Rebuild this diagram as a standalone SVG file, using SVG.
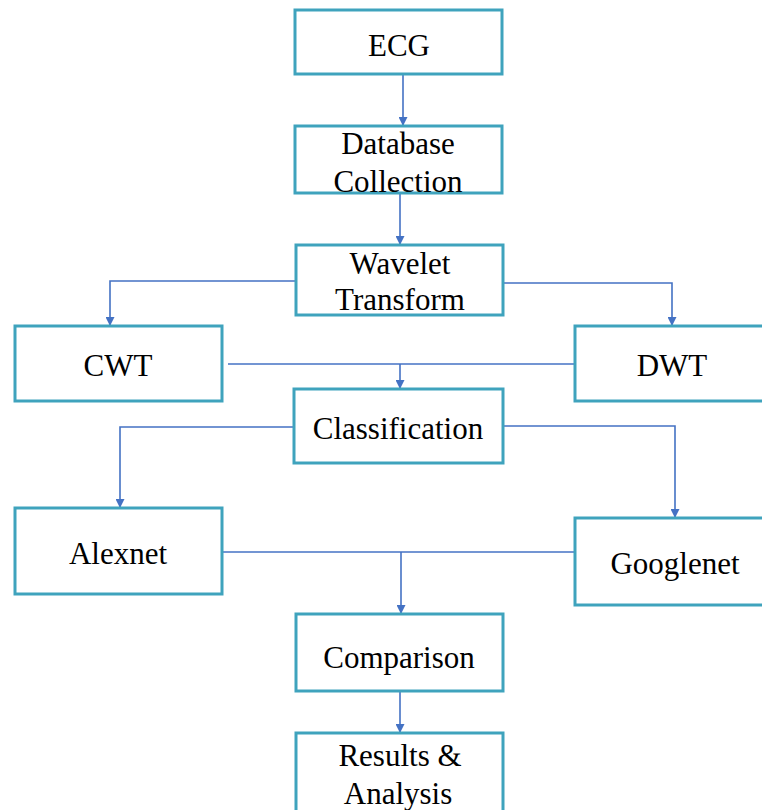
<svg xmlns="http://www.w3.org/2000/svg" width="762" height="810" viewBox="0 0 762 810">
<defs>
<marker id="ah" viewBox="0 0 10 10" refX="10" refY="5" markerWidth="9" markerHeight="9" markerUnits="userSpaceOnUse" orient="auto">
<path d="M0,0 L10,5 L0,10 z" fill="#4472C4"/>
</marker>
</defs>
<style>
.box{fill:#fff;stroke:#3FA3BD;stroke-width:3}
.t{font-family:"Liberation Serif","Times New Roman",serif;font-size:31px;fill:#000;text-anchor:middle}
.c{fill:none;stroke:#4472C4;stroke-width:1.6}
</style>
<rect width="762" height="810" fill="#fff"/>
<g id="connectors">
<path class="c" d="M403,74 V126" marker-end="url(#ah)"/>
<path class="c" d="M400,193 V245" marker-end="url(#ah)"/>
<path class="c" d="M296,281 H110 V326" marker-end="url(#ah)"/>
<path class="c" d="M503,283 H672 V326" marker-end="url(#ah)"/>
<path class="c" d="M228,364 H575"/>
<path class="c" d="M400,364 V389" marker-end="url(#ah)"/>
<path class="c" d="M294,427 H120 V508" marker-end="url(#ah)"/>
<path class="c" d="M503,426 H675 V518" marker-end="url(#ah)"/>
<path class="c" d="M222,552 H575"/>
<path class="c" d="M401,552 V614" marker-end="url(#ah)"/>
<path class="c" d="M400,691 V733" marker-end="url(#ah)"/>
</g>
<g id="ecg"><rect class="box" x="295" y="10" width="207" height="64"/><text class="t" x="399" y="56">ECG</text></g>
<g id="database"><rect class="box" x="295" y="126" width="207" height="67"/><text class="t" x="398" y="154">Database</text><text class="t" x="398" y="192">Collection</text></g>
<g id="wavelet"><rect class="box" x="296" y="245" width="207" height="70"/><text class="t" x="400" y="274">Wavelet</text><text class="t" x="400" y="310">Transform</text></g>
<g id="cwt"><rect class="box" x="15" y="326" width="207" height="75"/><text class="t" x="118" y="376">CWT</text></g>
<g id="dwt"><rect class="box" x="575" y="326" width="195" height="75"/><text class="t" x="672" y="376">DWT</text></g>
<g id="classification"><rect class="box" x="294" y="389" width="209" height="74"/><text class="t" x="398" y="439">Classification</text></g>
<g id="alexnet"><rect class="box" x="15" y="508" width="207" height="86"/><text class="t" x="118" y="564">Alexnet</text></g>
<g id="googlenet"><rect class="box" x="575" y="518" width="195" height="87"/><text class="t" x="675" y="574">Googlenet</text></g>
<g id="comparison"><rect class="box" x="296" y="614" width="207" height="77"/><text class="t" x="399" y="668">Comparison</text></g>
<g id="results"><rect class="box" x="296" y="733" width="207" height="90"/><text class="t" x="400" y="766">Results &amp;</text><text class="t" x="398" y="804">Analysis</text></g>
</svg>
